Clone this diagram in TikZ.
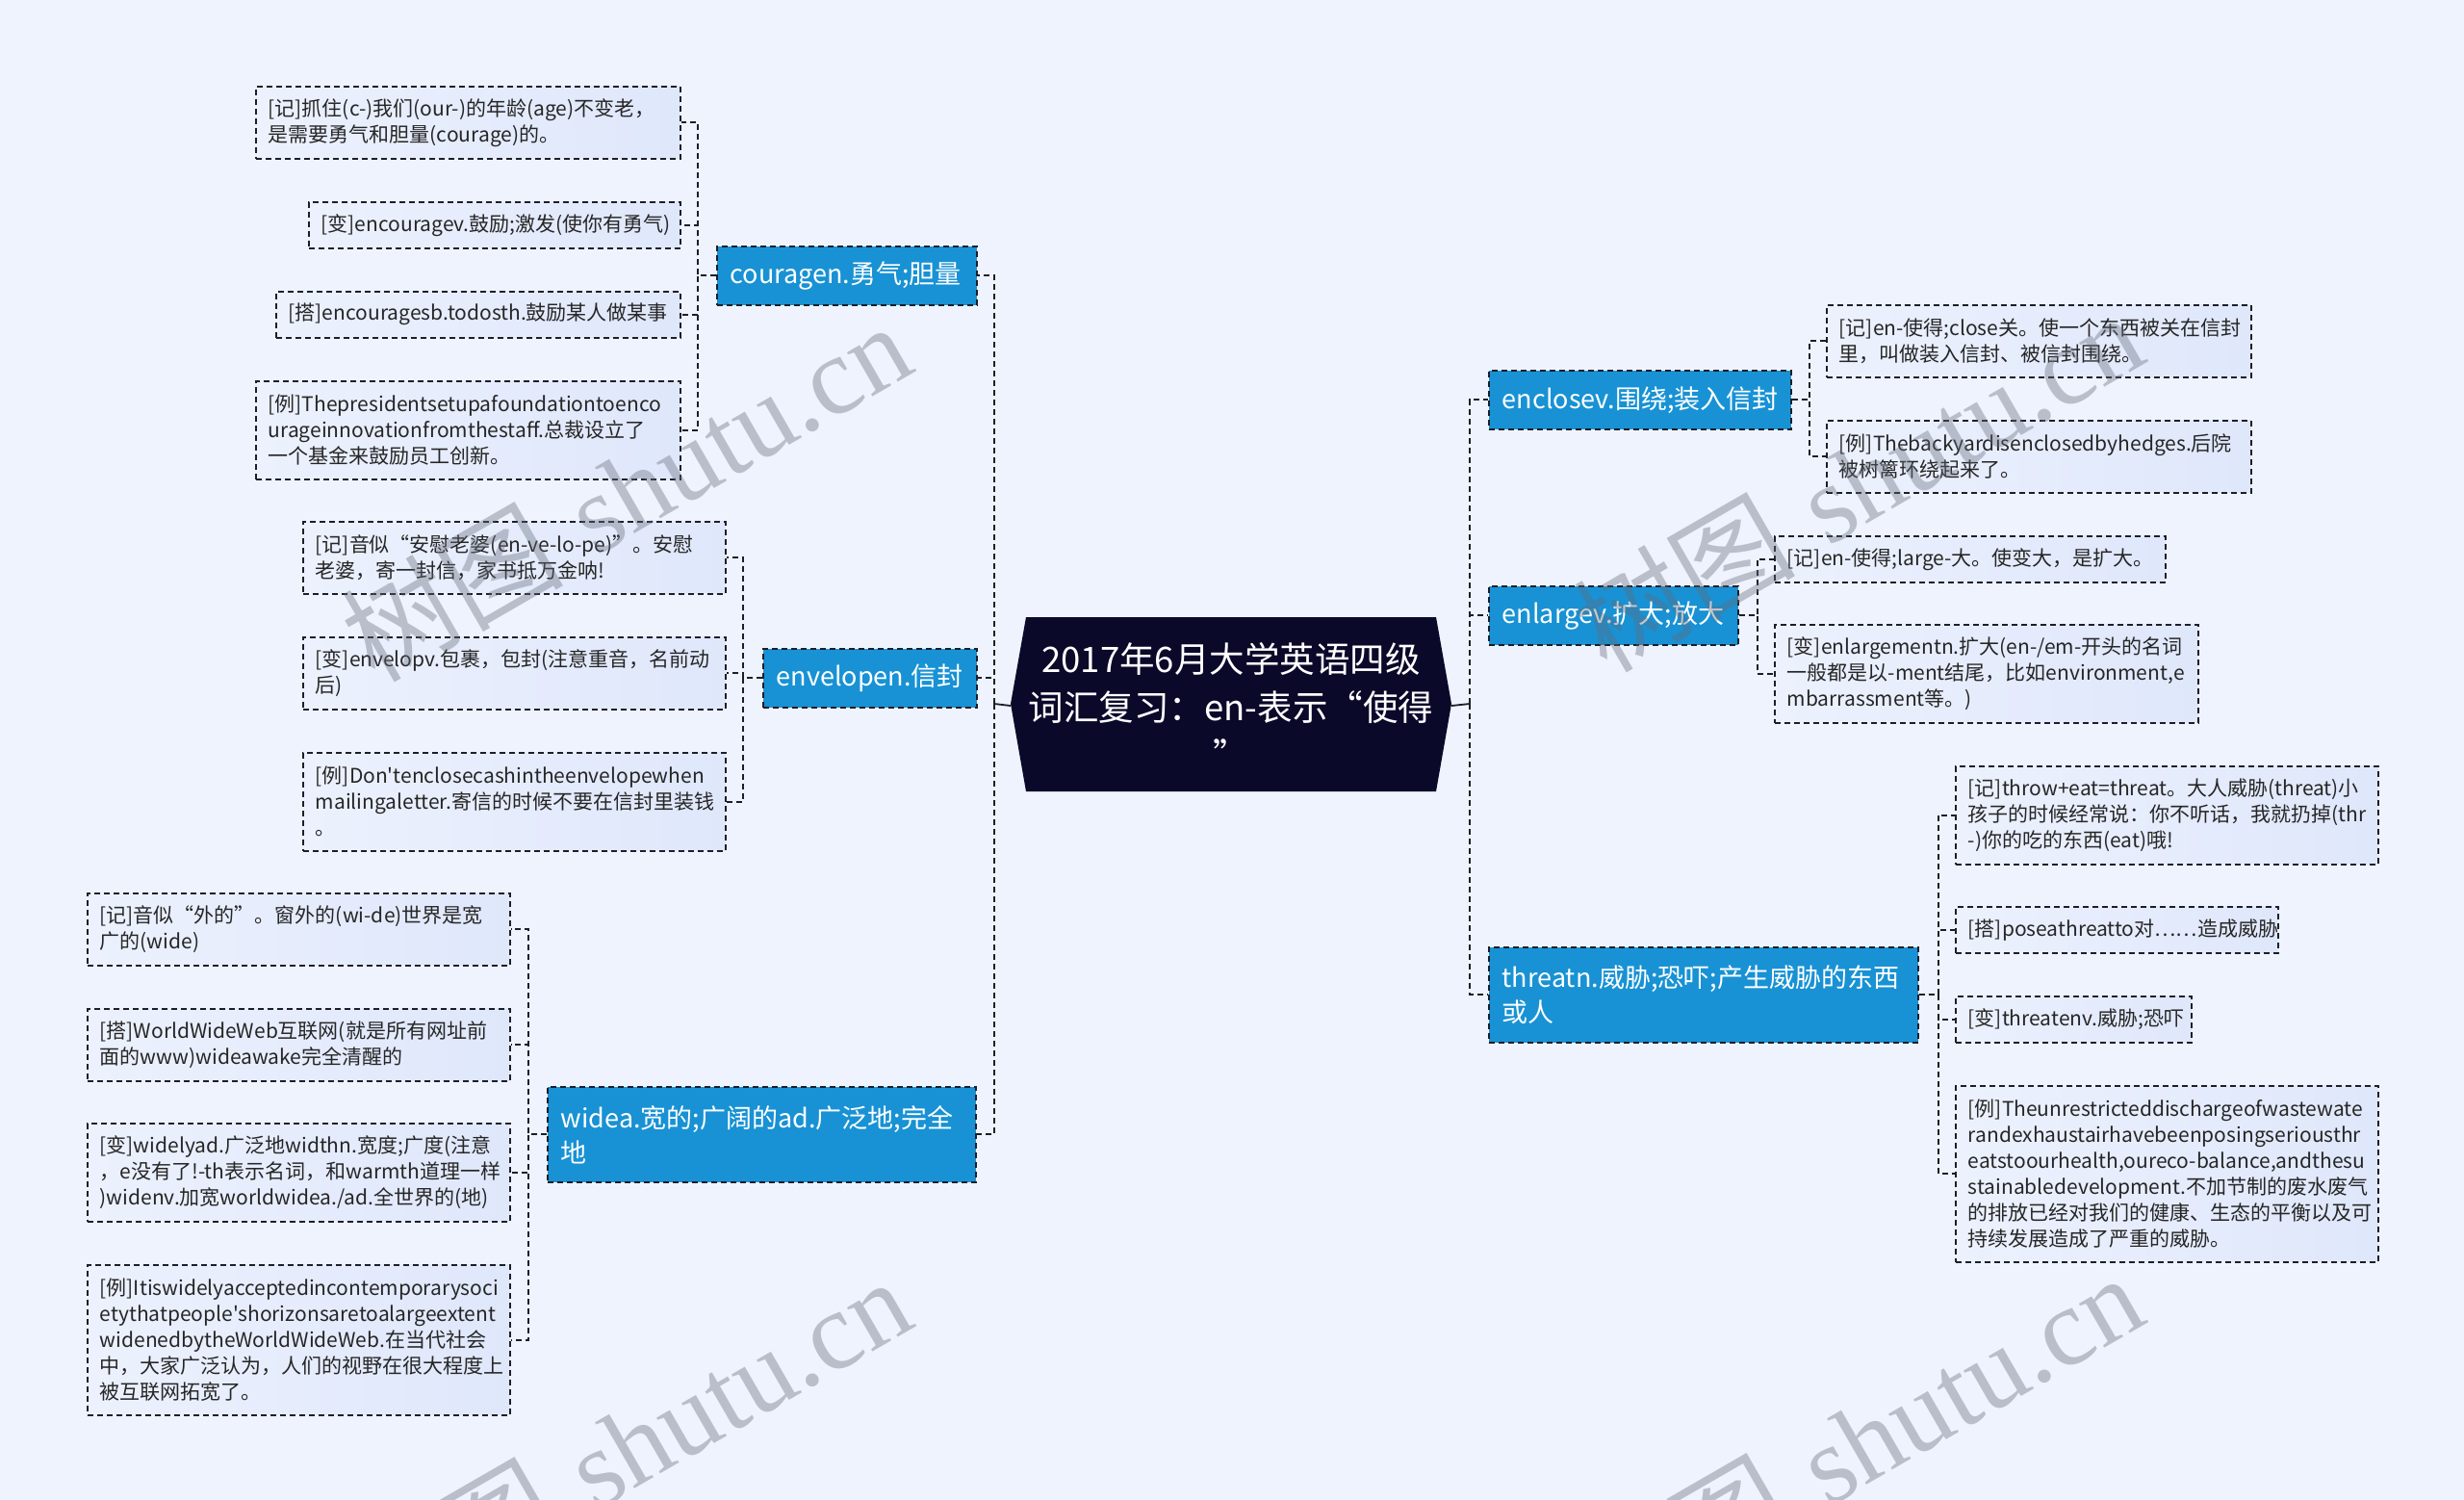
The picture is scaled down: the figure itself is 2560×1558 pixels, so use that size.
\documentclass[tikz,border=0pt]{standalone}
\usepackage{fontspec}
\newfontfamily\cjk{Noto Sans CJK SC}
\newfontfamily\wmserif{Liberation Serif}
\usetikzlibrary{backgrounds}
\definecolor{bg}{RGB}{238,243,253}
\definecolor{lvA}{RGB}{236,241,253}
\definecolor{lvB}{RGB}{223,231,251}
\definecolor{blu}{RGB}{24,146,212}
\definecolor{navy}{RGB}{11,9,42}
\definecolor{ink}{RGB}{30,30,40}
\definecolor{wm}{RGB}{100,106,120}
\tikzset{
  dsh/.style={dash pattern=on 6pt off 4pt},
  leaf/.style={draw=ink, line width=1.6pt, dsh, left color=lvA, right color=lvB,
    anchor=north west, inner xsep=13pt, inner ysep=0pt, align=left,
    font=\cjk\fontsize{21pt}{27pt}\selectfont, text=black!85},
  topic/.style={draw=ink, line width=1.6pt, dsh, fill=blu, anchor=north west,
    inner xsep=14pt, inner ysep=0pt, align=left, minimum height=61pt,
    font=\cjk\fontsize{27pt}{36pt}\selectfont, text=white},
  conn/.style={draw=ink, line width=1.8pt, dsh},
  trunk/.style={draw=ink, line width=1.8pt},
  wmark/.style={rotate=30, text=wm, opacity=0.38, font=\fontsize{115pt}{115pt}\selectfont}
}
\begin{document}
\exhyphenpenalty=10000\relax
\hyphenpenalty=10000\relax
\hbadness=10000\relax
\hfuzz=200pt\relax
\begin{tikzpicture}[x=1pt,y=-1pt]
\useasboundingbox (0,0) rectangle (2560,1558);
\begin{scope}[on background layer]
\fill[bg] (0,0) rectangle (2560,1558);
\end{scope}

% central topic
\fill[navy] (1066,641) -- (1492,641) -- (1508,731) -- (1492,822) -- (1066,822) -- (1050,731) -- cycle;
\node[font=\cjk\fontsize{36.5pt}{50pt}\selectfont, text=white, align=center,
  minimum width=458pt, minimum height=181pt, inner sep=0pt] (c) at (1279,733)
  {2017年6月大学英语四级\\词汇复习：en-表示“使得\\”};

% main branches
\node[topic, minimum width=270pt, text width=242pt] (T1) at (744,255) {couragen.勇气;胆量};
\node[topic, minimum width=222pt, text width=194pt] (T2) at (792,673) {envelopen.信封};
\node[topic, minimum width=445pt, text width=417pt, minimum height=99pt] (T3) at (568,1128) {widea.宽的;广阔的ad.广泛地;完全\\地};
\node[topic, minimum width=314pt, text width=286pt] (T4) at (1546,384) {enclosev.围绕;装入信封};
\node[topic, minimum width=259pt, text width=231pt] (T5) at (1546,608) {enlargev.扩大;放大};
\node[topic, minimum width=446pt, text width=418pt, minimum height=99pt] (T6) at (1546,983) {threatn.威胁;恐吓;产生威胁的东西\\或人};

% courage leaves
\node[leaf, minimum width=441pt, text width=415pt, minimum height=75pt] (a1) at (265,89) {[记]抓住(c-)我们(our-)的年龄(age)不变老，\\是需要勇气和胆量(courage)的。};
\node[leaf, minimum width=386pt, text width=360pt, minimum height=48pt] (a2) at (320,209) {[变]encouragev.鼓励;激发(使你有勇气)};
\node[leaf, minimum width=420pt, text width=394pt, minimum height=48pt] (a3) at (286,302) {[搭]encouragesb.todosth.鼓励某人做某事};
\node[leaf, minimum width=441pt, text width=415pt, minimum height=102pt] (a4) at (265,395) {[例]Thepresidentsetupafoundationtoenco\\urageinnovationfromthestaff.总裁设立了\\一个基金来鼓励员工创新。};

% envelope leaves
\node[leaf, minimum width=439pt, text width=413pt, minimum height=75pt] (b1) at (314,541) {[记]音似“安慰老婆(en-ve-lo-pe)”。安慰\\老婆，寄一封信，家书抵万金呐!};
\node[leaf, minimum width=439pt, text width=413pt, minimum height=75pt] (b2) at (314,661) {[变]envelopv.包裹，包封(注意重音，名前动\\后)};
\node[leaf, minimum width=439pt, text width=413pt, minimum height=102pt] (b3) at (314,781) {[例]Don't{}enclosecashintheenvelopewhen\\mailingaletter.寄信的时候不要在信封里装钱\\。};

% wide leaves
\node[leaf, minimum width=439pt, text width=413pt, minimum height=75pt] (c1) at (90,927) {[记]音似“外的”。窗外的(wi-de)世界是宽\\广的(wide)};
\node[leaf, minimum width=439pt, text width=413pt, minimum height=75pt] (c2) at (90,1047) {[搭]WorldWideWeb互联网(就是所有网址前\\面的www)wideawake完全清醒的};
\node[leaf, minimum width=439pt, text width=413pt, minimum height=102pt] (c3) at (90,1166) {[变]widelyad.广泛地widthn.宽度;广度(注意\\，e没有了!-th表示名词，和warmth道理一样\\)widenv.加宽worldwidea./ad.全世界的(地)};
\node[leaf, minimum width=439pt, text width=413pt, minimum height=156pt] (c4) at (90,1313) {[例]Itiswidelyacceptedincontemporarysoci\\etythatpeople's{}horizonsaretoalargeextent\\widenedbytheWorldWideWeb.在当代社会\\中，大家广泛认为，人们的视野在很大程度上\\被互联网拓宽了。};

% enclose leaves
\node[leaf, minimum width=441pt, text width=415pt, minimum height=75pt] (d1) at (1897,316) {[记]en-使得;close关。使一个东西被关在信封\\里，叫做装入信封、被信封围绕。};
\node[leaf, minimum width=441pt, text width=415pt, minimum height=75pt] (d2) at (1897,436) {[例]Thebackyardisenclosedbyhedges.后院\\被树篱环绕起来了。};

% enlarge leaves
\node[leaf, minimum width=406pt, text width=380pt, minimum height=48pt] (e1) at (1843,556) {[记]en-使得;large-大。使变大，是扩大。};
\node[leaf, minimum width=440pt, text width=414pt, minimum height=102pt] (e2) at (1843,648) {[变]enlargementn.扩大(en-/em-开头的名词\\一般都是以-ment结尾，比如environment,e\\mbarrassment等。)};

% threat leaves
\node[leaf, minimum width=439pt, text width=413pt, minimum height=102pt] (f1) at (2031,795) {[记]throw+eat=threat。大人威胁(threat)小\\孩子的时候经常说：你不听话，我就扔掉(thr\\-)你的吃的东西(eat)哦!};
\node[leaf, minimum width=335pt, text width=309pt, minimum height=48pt] (f2) at (2031,941) {[搭]poseathreatto对……造成威胁};
\node[leaf, minimum width=245pt, text width=219pt, minimum height=48pt] (f3) at (2031,1034) {[变]threatenv.威胁;恐吓};
\node[leaf, minimum width=439pt, text width=413pt, minimum height=183pt] (f4) at (2031,1127) {[例]Theunrestricteddischargeofwastewate\\randexhaustairhavebeenposingseriousthr\\eatstoourhealth,oureco-balance,andthesu\\stainabledevelopment.不加节制的废水废气\\的排放已经对我们的健康、生态的平衡以及可\\持续发展造成了严重的威胁。};

% connectors
\coordinate (jl) at (1033,731);
\coordinate (jr) at (1527,731);
\begin{scope}[on background layer]
\draw[trunk] (c.west) -- (jl);
\draw[trunk] (c.east) -- (jr);
\foreach \t in {T1,T2,T3} \draw[conn] (jl) |- (\t.east);
\foreach \t in {T4,T5,T6} \draw[conn] (jr) |- (\t.west);
\foreach \l in {a1,a2,a3,a4} \draw[conn] (T1.west) -- ++(-19,0) |- (\l.east);
\foreach \l in {b1,b2,b3} \draw[conn] (T2.west) -- ++(-20,0) |- (\l.east);
\foreach \l in {c1,c2,c3,c4} \draw[conn] (T3.west) -- ++(-19,0) |- (\l.east);
\foreach \l in {d1,d2} \draw[conn] (T4.east) -- ++(18,0) |- (\l.west);
\foreach \l in {e1,e2} \draw[conn] (T5.east) -- ++(19,0) |- (\l.west);
\foreach \l in {f1,f2,f3,f4} \draw[conn] (T6.east) -- ++(20,0) |- (\l.west);
\end{scope}

% watermarks
\node[wmark] (w1) at (650,510) {{\cjk 树图} {\wmserif shutu.cn}};
\node[wmark] (w2) at (1930,500) {{\cjk 树图} {\wmserif shutu.cn}};
\node[wmark] (w3) at (650,1502) {{\cjk 树图} {\wmserif shutu.cn}};
\node[wmark] (w4) at (1930,1498) {{\cjk 树图} {\wmserif shutu.cn}};
\end{tikzpicture}
\end{document}
